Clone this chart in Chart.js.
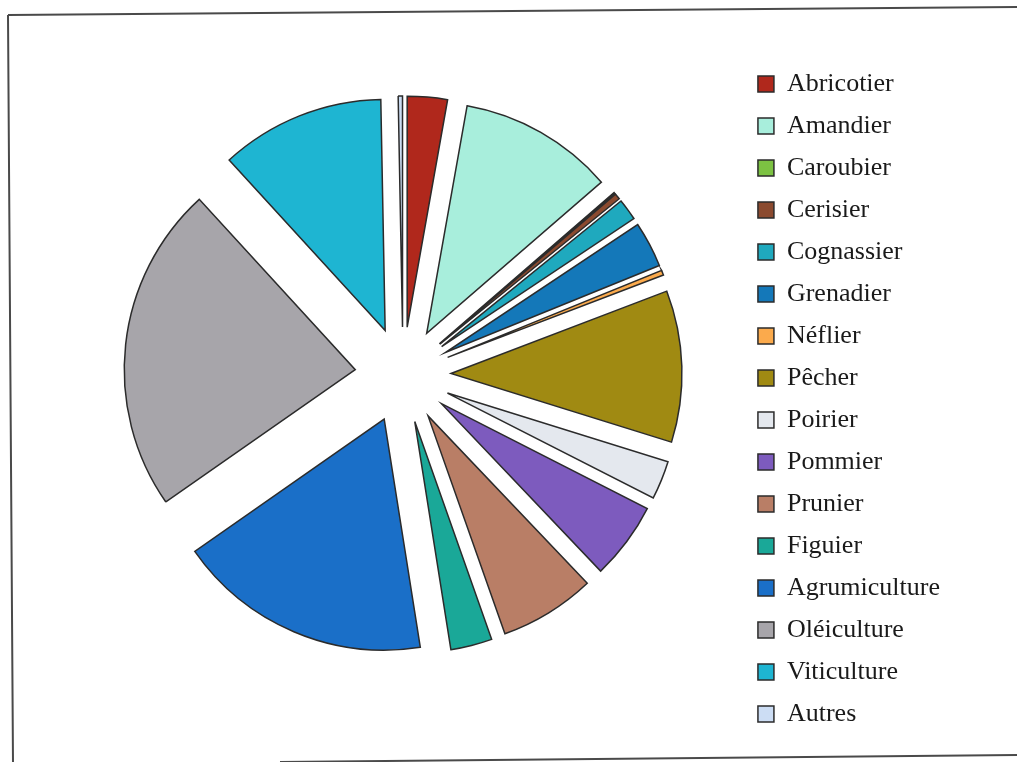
<!DOCTYPE html>
<html>
<head>
<meta charset="utf-8">
<script src="https://cdn.jsdelivr.net/npm/chart.js@4.4.1/dist/chart.umd.min.js"></script>
<style>
html,body{margin:0;padding:0;background:#fff;}
#wrap{position:relative;width:1017px;height:762px;}
</style>
</head>
<body>
<div id="wrap"><canvas id="c" width="1017" height="762"></canvas></div>
<script>
const categories = ["Abricotier","Amandier","Caroubier","Cerisier","Cognassier","Grenadier","Néflier","Pêcher","Poirier","Pommier","Prunier","Figuier","Agrumiculture","Oléiculture","Viticulture","Autres"];
const shares = [2.8, 10.85, 0.1, 0.4, 1.5, 3.2, 0.35, 10.6, 2.7, 5.4, 6.7, 2.9, 17.8, 22.9, 11.5, 0.3];
const colors = ["#B0281C","#A8EEDC","#7CC242","#8B4A2F","#1FA9BE","#1478B9","#FBAA4C","#A08A12","#E4E8EE","#7D5BBE","#B97E66","#1AA898","#1A6FC8","#A7A5AA","#1EB5D2","#CCDDF4"];

const EXPLODE = 48;

const framePlugin = {
  id: 'frame',
  beforeDraw(chart){
    const ctx = chart.ctx;
    ctx.save();
    ctx.fillStyle = '#fff';
    ctx.fillRect(0,0,chart.width,chart.height);
    ctx.strokeStyle = '#4a4a4a';
    ctx.lineWidth = 2;
    ctx.beginPath();
    ctx.moveTo(8,15); ctx.lineTo(1017,7);
    ctx.moveTo(8,15); ctx.lineTo(13,762);
    ctx.moveTo(280,762); ctx.lineTo(1017,755);
    ctx.stroke();
    ctx.restore();
  }
};

// Excel-style explosion: every slice pushed out by the same distance along its mid-angle
const explodePlugin = {
  id: 'explode',
  afterDatasetsUpdate(chart){
    const a = chart.chartArea;
    const cx = (a.left + a.right) / 2, cy = (a.top + a.bottom) / 2;
    chart.getDatasetMeta(0).data.forEach(arc => {
      const mid = (arc.startAngle + arc.endAngle) / 2;
      arc.x = cx + Math.cos(mid) * EXPLODE;
      arc.y = cy + Math.sin(mid) * EXPLODE;
    });
  }
};

new Chart(document.getElementById('c'), {
  type: 'pie',
  data: {
    labels: categories,
    datasets: [{
      data: shares,
      backgroundColor: colors,
      borderColor: '#2b2b2b',
      borderWidth: 1.5,
      borderJoinStyle: 'miter',
      offset: 0,
      hoverOffset: 0
    }]
  },
  options: {
    responsive: false,
    animation: false,
    radius: 231,
    layout: { padding: { left: 64, right: 67, top: 0, bottom: 12 } },
    plugins: {
      tooltip: { enabled: false },
      legend: {
        position: 'right',
        align: 'start',
        title: { display: true, text: '', font: { size: 20 }, padding: { top: 15.5, bottom: 15.5 } },
        labels: {
          font: { family: '"Liberation Serif", "Times New Roman", serif', size: 26 },
          color: '#1a1a1a',
          boxWidth: 16,
          boxHeight: 16,
          padding: 16
        }
      }
    }
  },
  plugins: [framePlugin, explodePlugin]
});
</script>
</body>
</html>
